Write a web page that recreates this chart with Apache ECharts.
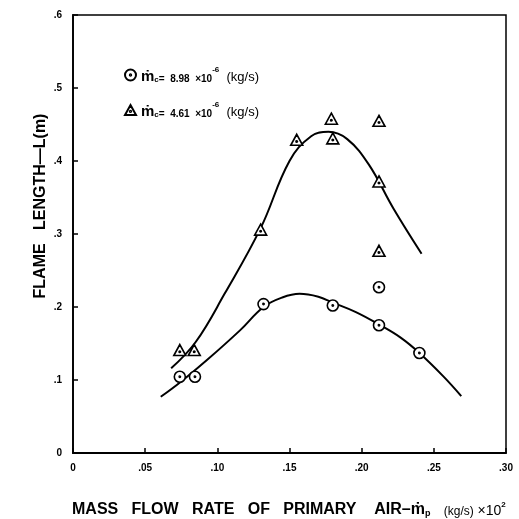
<!DOCTYPE html>
<html>
<head>
<meta charset="utf-8">
<script src="https://cdn.jsdelivr.net/npm/echarts@6/dist/echarts.min.js"></script>
<style>html,body{margin:0;padding:0;background:#fff;}#c{width:519px;height:519px;}</style>
</head>
<body>
<div id="c"></div>
<script>
// ---- data ----
var xTickLabels = ['0', '.05', '.10', '.15', '.20', '.25', '.30'];
var yTickLabels = ['0', '.1', '.2', '.3', '.4', '.5', '.6'];

// mc = 8.98e-6 kg/s (circles)
var circleX = [0.074, 0.0845, 0.132, 0.180, 0.212, 0.212, 0.240];
var circleY = [0.1045, 0.1045, 0.204, 0.202, 0.175, 0.227, 0.137];

// mc = 4.61e-6 kg/s (triangles)
var triX = [0.074, 0.084, 0.130, 0.155, 0.179, 0.180, 0.212, 0.212, 0.212];
var triY = [0.141, 0.141, 0.306, 0.429, 0.458, 0.431, 0.455, 0.372, 0.277];

// hand-drawn fitted curves
var upperX = [0.068, 0.085, 0.105, 0.130, 0.150, 0.165, 0.177, 0.190, 0.205, 0.222, 0.2415];
var upperY = [0.116, 0.152, 0.218, 0.308, 0.400, 0.434, 0.440, 0.430, 0.395, 0.335, 0.273];
var lowerX = [0.0608, 0.075, 0.0926, 0.1157, 0.132, 0.145, 0.157, 0.170, 0.180, 0.196, 0.212, 0.227, 0.240, 0.2566, 0.269];
var lowerY = [0.077, 0.098, 0.127, 0.168, 0.200, 0.213, 0.218, 0.214, 0.206, 0.193, 0.176, 0.158, 0.137, 0.105, 0.078];

function pairs(xs, ys) { return xs.map(function (x, i) { return [x, ys[i]]; }); }

var circleSym = 'path://M50,0 A50,50 0 1,1 49.99,0 Z M50,44 A6,6 0 1,1 49.99,44 Z';
var triSym = 'path://M50,0 L100,90 L0,90 Z M50,52 A6,6 0 1,1 49.99,52 Z';
var FONT = '"Liberation Sans", Arial, "DejaVu Sans", sans-serif';

var chart = echarts.init(document.getElementById('c'), null, { renderer: 'canvas' });
var legendRich = {
  m: { fontSize: 15, fontWeight: 'bold', fontFamily: FONT, color: '#000', verticalAlign: 'bottom', lineHeight: 18 },
  s: { fontSize: 8, fontWeight: 'bold', fontFamily: FONT, color: '#000', verticalAlign: 'bottom', lineHeight: 14 },
  t: { fontSize: 10, fontWeight: 'bold', fontFamily: FONT, color: '#000', verticalAlign: 'bottom', lineHeight: 16 },
  sup: { fontSize: 8, fontWeight: 'bold', fontFamily: FONT, color: '#000', verticalAlign: 'top', lineHeight: 10 },
  u: { fontSize: 13, fontFamily: FONT, color: '#000', verticalAlign: 'bottom', lineHeight: 18 }
};
var legendNames = { 'c898': ['8.98'], 'c461': ['4.61'] };

chart.setOption({
  backgroundColor: '#fff',
  animation: false,
  grid: { left: 73, right: 13, top: 15, bottom: 66, show: true, borderColor: '#000', borderWidth: 1.5, backgroundColor: 'transparent' },
  legend: {
    orient: 'vertical', left: 119, top: 61, itemGap: 17, itemWidth: 11, itemHeight: 11,
    data: [{ name: 'c898', icon: circleSym }, { name: 'c461', icon: triSym }],
    formatter: function (n) {
      return '{m|ṁ}{s|c}{t|=  ' + legendNames[n][0] + '  ×10}{sup|-6}{u|  (kg/s)}';
    },
    textStyle: { rich: legendRich }
  },
  xAxis: {
    type: 'value', min: 0, max: 0.30, interval: 0.05,
    axisLine: { show: true, lineStyle: { color: '#000', width: 1.8 } },
    axisTick: { show: true, inside: true, length: 5, lineStyle: { color: '#000', width: 1.5 } },
    splitLine: { show: false },
    axisLabel: {
      margin: 10, color: '#000', fontSize: 10, fontWeight: 'bold', fontFamily: FONT,
      formatter: function (v) { return xTickLabels[Math.round(v / 0.05)]; }
    }
  },
  yAxis: {
    type: 'value', min: 0, max: 0.6, interval: 0.1,
    axisLine: { show: true, lineStyle: { color: '#000', width: 1.8 } },
    axisTick: { show: true, inside: true, length: 5, lineStyle: { color: '#000', width: 1.5 } },
    splitLine: { show: false },
    axisLabel: {
      margin: 11, color: '#000', fontSize: 10, fontWeight: 'bold', fontFamily: FONT,
      formatter: function (v) { return yTickLabels[Math.round(v / 0.1)]; }
    }
  },
  series: [
    {
      name: 'upperCurve', type: 'line', data: pairs(upperX, upperY), smooth: 0.4,
      showSymbol: false, symbol: 'none', lineStyle: { color: '#000', width: 2 }, silent: true, z: 2
    },
    {
      name: 'lowerCurve', type: 'line', data: pairs(lowerX, lowerY), smooth: 0.4,
      showSymbol: false, symbol: 'none', lineStyle: { color: '#000', width: 2 }, silent: true, z: 2
    },
    {
      name: 'c898', type: 'scatter', data: pairs(circleX, circleY), symbol: circleSym, symbolSize: 11,
      itemStyle: { color: '#fff', borderColor: '#000', borderWidth: 1.6, opacity: 1 }, z: 3
    },
    {
      name: 'c461', type: 'scatter', data: pairs(triX, triY), symbol: triSym, symbolSize: [12, 11],
      itemStyle: { color: '#fff', borderColor: '#000', borderWidth: 1.6, opacity: 1 }, z: 3
    }
  ],
  graphic: [
    {
      type: 'text', x: 41, y: 206, rotation: Math.PI / 2,
      style: {
        text: 'FLAME   LENGTH—L(m)', fill: '#000',
        font: 'bold 16px ' + FONT, align: 'center', verticalAlign: 'middle',
        textAlign: 'center', textVerticalAlign: 'middle'
      }
    },
    {
      type: 'text', x: 72, y: 498,
      style: {
        text: '{a|MASS   FLOW   RATE   OF   PRIMARY    AIR–ṁ}{p|p}{k|    (kg/s)}{x| ×10}{sup|2}',
        fill: '#000', align: 'left', verticalAlign: 'top', textAlign: 'left', textVerticalAlign: 'top',
        rich: {
          a: { fontSize: 16, fontWeight: 'bold', fontFamily: FONT, color: '#000', verticalAlign: 'bottom', lineHeight: 20 },
          p: { fontSize: 9, fontWeight: 'bold', fontFamily: FONT, color: '#000', verticalAlign: 'bottom', lineHeight: 15 },
          k: { fontSize: 12, fontFamily: FONT, color: '#000', verticalAlign: 'bottom', lineHeight: 20 },
          x: { fontSize: 14, fontFamily: FONT, color: '#000', verticalAlign: 'bottom', lineHeight: 19 },
          sup: { fontSize: 8, fontWeight: 'bold', fontFamily: FONT, color: '#000', verticalAlign: 'top', lineHeight: 15, padding: [3, 0, 0, 0] }
        }
      }
    }
  ]
});
</script>
</body>
</html>
